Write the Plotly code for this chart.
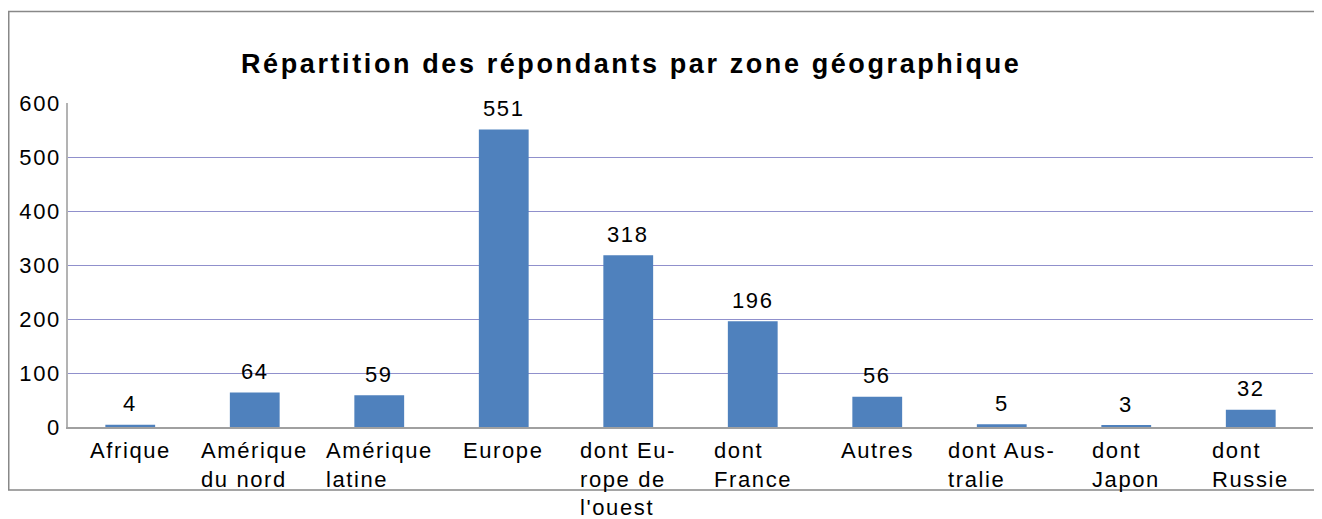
import plotly.graph_objects as go

categories = ["Afrique", "Amérique du nord", "Amérique latine", "Europe",
              "dont Europe de l'ouest", "dont France", "Autres",
              "dont Australie", "dont Japon", "dont Russie"]
tick_lines = [["Afrique"], ["Amérique", "du nord"], ["Amérique", "latine"], ["Europe"],
              ["dont Eu-", "rope de", "l'ouest"], ["dont", "France"], ["Autres"],
              ["dont Aus-", "tralie"], ["dont", "Japon"], ["dont", "Russie"]]
values = [4, 64, 59, 551, 318, 196, 56, 5, 3, 32]
y_ticks = [0, 100, 200, 300, 400, 500, 600]
title = "Répartition des répondants par zone géographique"

OFF = 8  # page body margin
W, H = 1322 - OFF, 519 - OFF
L, R, T, B = 68 - OFF, 1313 - OFF, 103 - OFF, 427 - OFF
pw, ph = R - L, B - T


def px_x(x):
    return (x - OFF - L) / pw


def px_y(y):
    return (B - (y - OFF)) / ph


def sp(s, ls):
    return '<span style="letter-spacing:%spx">%s</span>' % (ls, s)


FONT = "Liberation Sans, Arial, sans-serif"
LS = 1.6

fig = go.Figure()
fig.add_trace(go.Bar(
    x=categories, y=values, width=0.4,
    marker=dict(color="#4f81bd", line=dict(width=0)),
    hoverinfo="x+y",
))

for cat, v in zip(categories, values):
    fig.add_annotation(x=cat, xref="x", y=v, yref="y", yshift=21,
                       text=sp(str(v), LS), showarrow=False,
                       xanchor="center", yanchor="middle",
                       font=dict(family=FONT, size=22, color="black"))

for cat, lines in zip(categories, tick_lines):
    fig.add_annotation(x=cat, xref="x", y=px_y(436), yref="paper",
                       text="<br>".join(sp(l, LS) for l in lines),
                       showarrow=False, xanchor="center", yanchor="top",
                       align="left", font=dict(family=FONT, size=22, color="black"))

fig.add_annotation(x=px_x(631), xref="paper", y=px_y(64), yref="paper",
                   text="<b>" + sp(title, 2.6) + "</b>",
                   showarrow=False, xanchor="center", yanchor="middle",
                   font=dict(family=FONT, size=27, color="black"))

fig.add_shape(type="rect", xref="paper", yref="paper",
              x0=px_x(8.75), x1=px_x(1340), y0=px_y(490), y1=px_y(11.5),
              line=dict(color="#888888", width=1.5), layer="below")

fig.update_layout(
    width=W, height=H,
    margin=dict(l=L, r=W - R, t=T, b=H - B, pad=0),
    paper_bgcolor="white", plot_bgcolor="white",
    showlegend=False, bargap=0.6,
    xaxis=dict(showticklabels=False, showgrid=False, zeroline=False,
               showline=True, linecolor="#a0a0a0", linewidth=1.5, ticks="",
               range=[-0.5, 9.5]),
    yaxis=dict(range=[0, 600], tickvals=y_ticks,
               ticktext=[sp(str(t), LS) for t in y_ticks],
               showgrid=True, gridcolor="#9090cc", gridwidth=1, zeroline=False,
               showline=True, linecolor="#b3b3b3", linewidth=1.5,
               ticks="", ticklabelstandoff=1,
               tickfont=dict(family=FONT, size=22, color="black")),
)

fig.write_html("out.html")
